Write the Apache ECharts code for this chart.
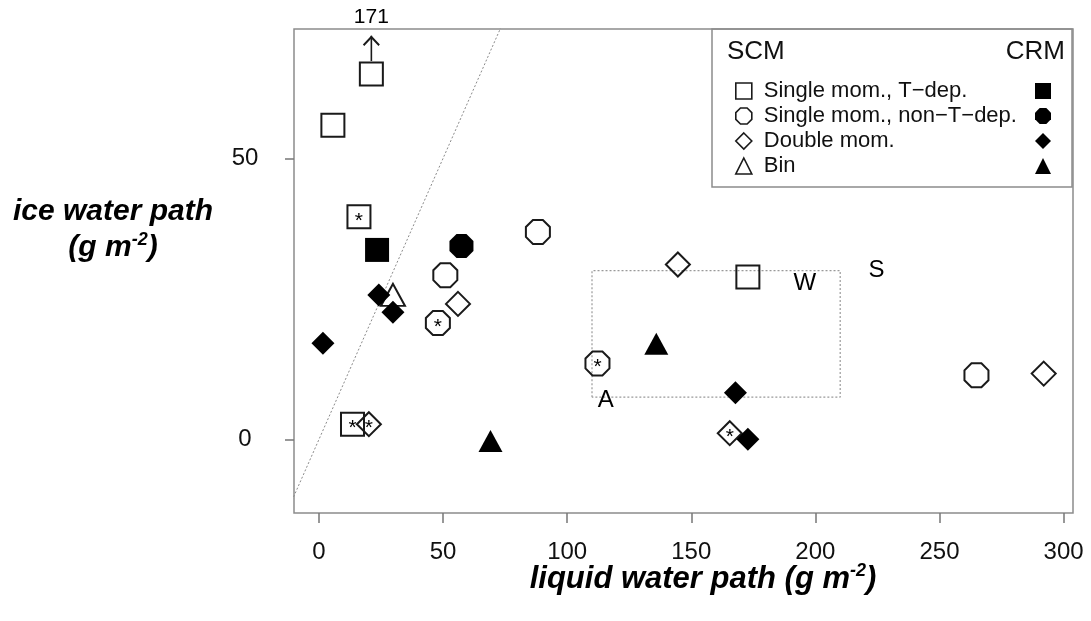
<!DOCTYPE html>
<html>
<head>
<meta charset="utf-8">
<script src="https://cdn.jsdelivr.net/npm/echarts@6/dist/echarts.min.js"></script>
<style>html,body{margin:0;padding:0;background:#fff}#c{width:1091px;height:621px}</style>
</head>
<body>
<div id="c"></div>
<script>
// ---------- data ----------
const xTicks = [0, 50, 100, 150, 200, 250, 300];
const yTicks = [0, 50];
const xRange = [-10.07, 303.8];
const yRange = [-13.1, 73.0];

// SCM (open symbols)
const scmSingleT      = [[21.1, 65.0], [5.6, 55.9], [172.8, 28.9]];
const scmSingleTStar  = [[16.1, 39.6], [13.5, 2.7]];
const scmSingleNT     = [[50.9, 29.2], [88.2, 36.9], [264.9, 11.4]];
const scmSingleNTStar = [[47.9, 20.7], [112.2, 13.5]];
const scmDouble       = [[56.0, 24.1], [144.6, 31.1], [292.0, 11.7]];
const scmDoubleStar   = [[20.1, 2.7], [165.5, 1.1]];
const scmBin          = [[29.8, 25.7]];

// CRM (filled symbols)
const crmSingleT  = [[23.4, 33.7]];
const crmSingleNT = [[57.4, 34.4]];
const crmDouble   = [[24.1, 25.7], [29.8, 22.6], [1.6, 17.1], [167.8, 8.3], [172.8, 0.0]];
const crmBin      = [[69.1, -0.3], [135.9, 17.0]];

// off-scale point (first SCM single-moment T-dep point, true value 171)
const offscaleIndex = 0;
const offscaleLabel = '171';
const arrowTop = 71.8;
const arrowBottom = 67.3;

// one-to-one line and the dotted region box
const oneToOne = [[-20, -20], [80, 80]];
const boxX = [110, 210];
const boxY = [7.5, 30];
const regionNames = ['A', 'W', 'S'];
const regionPos = [[115.5, 7.0], [195.7, 27.8], [224.6, 30.1]];

const names = ['Single mom., T\u2212dep.', 'Single mom., non\u2212T\u2212dep.', 'Double mom.', 'Bin'];

// ---------- styles ----------
const FONT = '"Liberation Sans", Arial, Helvetica, sans-serif';
const INK = '#1a1a1a';
const OCT = 'path://M29.3,0 L70.7,0 L100,29.3 L100,70.7 L70.7,100 L29.3,100 L0,70.7 L0,29.3 Z';
const ARROW_HEAD = 'path://M0,9 L8.5,0 L17,9 L15.6,10.4 L8.5,2.9 L1.4,10.4 Z';
const openStyle = {color: 'rgba(0,0,0,0)', borderColor: INK, borderWidth: 2, opacity: 1};
const fillStyle = {color: '#000', borderColor: '#000', borderWidth: 0, opacity: 1};
const starLabel = {show: true, position: 'inside', formatter: '*', fontSize: 21, color: '#000',
  fontFamily: FONT, offset: [0, 4]};

function scatter(name, data, symbol, size, style, extra) {
  return Object.assign({
    type: 'scatter', name: name, data: data, symbol: symbol, symbolSize: size,
    itemStyle: style, emphasis: {disabled: true}, z: 3
  }, extra || {});
}

const boxPath = [[boxX[0], boxY[0]], [boxX[0], boxY[1]], [boxX[1], boxY[1]], [boxX[1], boxY[0]], [boxX[0], boxY[0]]];
const arrowX = scmSingleT[offscaleIndex][0];

const series = [
  {type: 'line', name: 'one-to-one', data: oneToOne, symbol: 'none', silent: true,
   lineStyle: {color: '#8a8a8a', width: 1, type: [2, 2]}, z: 1},
  {type: 'line', name: 'box', data: boxPath, symbol: 'none', silent: true,
   lineStyle: {color: '#999', width: 1.2, type: [2, 2]}, z: 1},
  scatter(names[0], scmSingleT, 'rect', 23, openStyle),
  scatter(names[0] + ' *', scmSingleTStar, 'rect', 23, openStyle, {label: starLabel}),
  scatter(names[1], scmSingleNT, OCT, 24, openStyle),
  scatter(names[1] + ' *', scmSingleNTStar, OCT, 24, openStyle, {label: starLabel}),
  scatter(names[2], scmDouble, 'diamond', 24, openStyle),
  scatter(names[2] + ' *', scmDoubleStar, 'diamond', 24, openStyle, {label: starLabel}),
  scatter(names[3], scmBin, 'triangle', [24, 22], openStyle),
  scatter('CRM ' + names[0], crmSingleT, 'rect', 24, fillStyle),
  scatter('CRM ' + names[1], crmSingleNT, OCT, 24, fillStyle),
  scatter('CRM ' + names[2], crmDouble, 'diamond', 23, fillStyle),
  scatter('CRM ' + names[3], crmBin, 'triangle', [24, 22], fillStyle),
  {type: 'line', name: 'offscale', silent: true, z: 4,
   data: [{value: [arrowX, arrowBottom], symbol: 'none'},
          {value: [arrowX, arrowTop], symbol: ARROW_HEAD, symbolSize: [17, 10.4], symbolOffset: [0, 5],
           label: {show: true, position: 'top', distance: 8, formatter: offscaleLabel,
                   fontSize: 21, color: '#000', fontFamily: FONT}}],
   lineStyle: {color: INK, width: 1.6}, itemStyle: {color: INK, opacity: 1}, clip: false},
  {type: 'scatter', name: 'regions', silent: true, symbolSize: 1,
   itemStyle: {color: 'rgba(0,0,0,0)', opacity: 1},
   data: regionNames.map((n, i) => ({name: n, value: regionPos[i]})),
   label: {show: true, position: 'inside', formatter: '{b}', fontSize: 24, color: '#000', fontFamily: FONT}}
];

const chart = echarts.init(document.getElementById('c'), null, {renderer: 'canvas'});
chart.setOption({
  animation: false,
  backgroundColor: '#fff',
  grid: {left: 294, right: 18, top: 29, bottom: 108, show: true, borderColor: '#8c8c8c', borderWidth: 1.5},
  xAxis: {
    type: 'value', min: xRange[0], max: xRange[1],
    axisLine: {show: false, onZero: false}, splitLine: {show: false},
    axisTick: {show: true, length: 10, customValues: xTicks, lineStyle: {color: '#777', width: 1.5}},
    axisLabel: {customValues: xTicks, fontSize: 24, color: '#111', fontFamily: FONT, margin: 39,
                verticalAlign: 'middle'}
  },
  yAxis: {
    type: 'value', min: yRange[0], max: yRange[1],
    axisLine: {show: false, onZero: false}, splitLine: {show: false},
    axisTick: {show: true, length: 9, customValues: yTicks, lineStyle: {color: '#777', width: 1.5}},
    axisLabel: {customValues: yTicks, fontSize: 24, color: '#111', fontFamily: FONT, margin: 49,
                align: 'center'}
  },
  legend: [
    {data: names, orient: 'vertical', left: 730, top: 75, itemWidth: 16, itemHeight: 16, itemGap: 3,
     selectedMode: false,
     itemStyle: {color: 'rgba(0,0,0,0)', borderColor: INK, borderWidth: 1.6},
     textStyle: {fontSize: 22, lineHeight: 22, color: '#111', fontFamily: FONT, padding: [0, 0, 0, 7]}},
    {data: names.map(n => 'CRM ' + n), orient: 'vertical', right: 35, top: 75, itemWidth: 16, itemHeight: 16,
     itemGap: 3, align: 'right', selectedMode: false, formatter: () => ' ',
     itemStyle: {opacity: 1},
     textStyle: {fontSize: 22, lineHeight: 22, color: '#111', fontFamily: FONT, padding: 0}}
  ],
  graphic: [
    {type: 'rect', shape: {x: 712, y: 29, width: 360, height: 158}, silent: true,
     style: {fill: 'rgba(0,0,0,0)', stroke: '#8c8c8c', lineWidth: 1.5}, z: 0},
    {type: 'text', x: 727, y: 52, silent: true,
     style: {text: 'SCM', fontSize: 26, fill: '#111', fontFamily: FONT, textVerticalAlign: 'middle'}},
    {type: 'text', x: 1065, y: 52, silent: true,
     style: {text: 'CRM', fontSize: 26, fill: '#111', fontFamily: FONT, textAlign: 'right', textVerticalAlign: 'middle'}},
    {type: 'text', x: 113, y: 212, silent: true,
     style: {text: 'ice water path', fontSize: 30, fontWeight: 'bold', fontStyle: 'italic', fill: '#000',
             fontFamily: FONT, textAlign: 'center', textVerticalAlign: 'middle'}},
    {type: 'text', x: 113, y: 248, silent: true,
     style: {text: '{a|(g m}{s|-2}{a|)}', textAlign: 'center', textVerticalAlign: 'middle', fill: '#000',
             rich: {a: {fontSize: 30, fontWeight: 'bold', fontStyle: 'italic', fontFamily: FONT, fill: '#000'},
                    s: {fontSize: 18, fontWeight: 'bold', fontStyle: 'italic', fontFamily: FONT, fill: '#000',
                        padding: [0, 0, 15, 0]}}}},
    {type: 'text', x: 703, y: 579, silent: true,
     style: {text: '{a|liquid water path (g m}{s|-2}{a|)}', textAlign: 'center', textVerticalAlign: 'middle', fill: '#000',
             rich: {a: {fontSize: 31, fontWeight: 'bold', fontStyle: 'italic', fontFamily: FONT, fill: '#000'},
                    s: {fontSize: 18, fontWeight: 'bold', fontStyle: 'italic', fontFamily: FONT, fill: '#000',
                        padding: [0, 0, 15, 0]}}}}
  ],
  series: series
});
</script>
</body>
</html>
